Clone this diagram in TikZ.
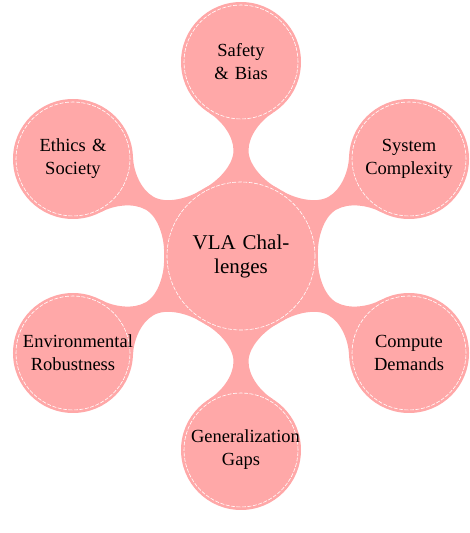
\documentclass[tikz,border=0pt]{standalone}
\usepackage{fontspec}
\setmainfont{Liberation Serif}
\usetikzlibrary{calc,backgrounds}
\definecolor{conceptpink}{RGB}{255,168,168}
\tikzset{
  x=1pt,y=1pt,
  ring/.style={draw=white, line width=0.6pt, dash pattern=on 4pt off 1.5pt},
  ringat/.style={path picture={\draw[ring] (path picture bounding box.center) circle[radius=#1];}},
  concept/.style={circle, fill=conceptpink, inner sep=0pt, outer sep=0pt, align=center, text=black},
  rootconcept/.style={concept, minimum size=154pt, text width=100pt, ringat=74pt,
    font=\fontsize{21}{24}\selectfont},
  childconcept/.style={concept, minimum size=120pt, text width=100pt, ringat=57pt,
    font=\fontsize{18.5}{23}\selectfont},
  bar/.style={fill=conceptpink, draw=none},
}
\begin{document}
\begin{tikzpicture}
\useasboundingbox (0,0) rectangle (470,533);
\node[rootconcept] (root) at (241,277) {VLA Chal-\\lenges};
\node[childconcept] (safety)  at ($(root.center)+(90:194pt)$)   {Safety\\\& Bias};
\node[childconcept] (system)  at ($(root.center)+(30:194pt)$)   {System\\Complexity};
\node[childconcept] (compute) at ($(root.center)+(-30:194pt)$)  {Compute\\Demands};
\node[childconcept] (general) at ($(root.center)+(-90:194pt)$)  {Generalization\\Gaps};
\node[childconcept] (environ) at ($(root.center)+(-150:194pt)$) {Environmental\\Robustness};
\node[childconcept] (ethics)  at ($(root.center)+(150:194pt)$)  {Ethics \&\\Society};
\begin{pgfonlayer}{background}
\foreach \c/\t in {safety/90, system/30, compute/330, general/270, environ/210, ethics/150}{
  \pgfmathtruncatemacro{\ra}{mod(\t+28+720,360)}
  \pgfmathtruncatemacro{\rb}{mod(\t-28+720,360)}
  \pgfmathtruncatemacro{\ca}{mod(\t+180-32+720,360)}
  \pgfmathtruncatemacro{\cb}{mod(\t+180+32+720,360)}
  \pgfmathtruncatemacro{\cm}{mod(\t+180+720,360)}
  \coordinate (A1) at (root.\ra);
  \coordinate (A2) at (root.\rb);
  \coordinate (B1) at (\c.\ca);
  \coordinate (B2) at (\c.\cb);
  \coordinate (M) at ($(root.\t)!0.5!(\c.\cm)$);
  \coordinate (Mr) at ($(M)!15pt!(root.center)$);
  \coordinate (Mc) at ($(M)!15pt!(\c.center)$);
  \fill[bar] (A1)
    .. controls ($(A1)!14pt!90:(root.center)$) and ($(Mr)!7.5pt!-90:(root.center)$) .. ($(M)!7.5pt!90:(\c.center)$)
    .. controls ($(Mc)!7.5pt!90:(\c.center)$) and ($(B1)!14pt!-90:(\c.center)$) .. (B1)
    -- (B2)
    .. controls ($(B2)!14pt!90:(\c.center)$) and ($(Mc)!7.5pt!-90:(\c.center)$) .. ($(M)!7.5pt!-90:(\c.center)$)
    .. controls ($(Mr)!7.5pt!90:(root.center)$) and ($(A2)!14pt!-90:(root.center)$) .. (A2)
    -- cycle;
}
\end{pgfonlayer}
\end{tikzpicture}
\end{document}
